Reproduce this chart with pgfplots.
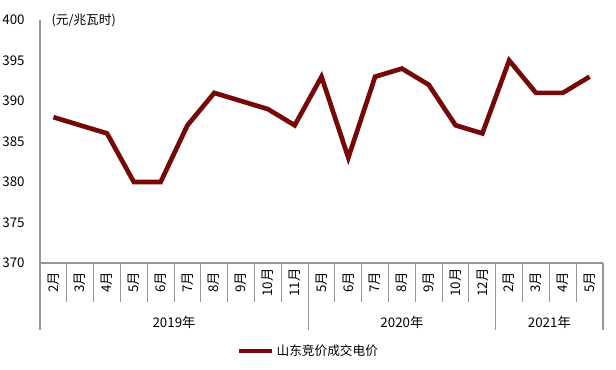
\documentclass[border=0pt]{standalone}
\usepackage{fontspec}
\setmainfont{Noto Sans CJK SC}
\usepackage{pgfplots}
\pgfplotsset{compat=1.18}
\definecolor{lineRed}{RGB}{118,8,8}
\definecolor{axGray}{RGB}{150,150,150}
\newcommand\yue{月}
\begin{document}
\begin{tikzpicture}
\useasboundingbox (0,0) rectangle (462pt,277.5pt);
\begin{axis}[
  at={(30pt,80.25pt)}, anchor=south west,
  width=422.25pt, height=182.25pt, scale only axis,
  xmin=-0.5, xmax=20.5, ymin=370, ymax=400,
  ytick={370,375,...,400},
  xtick=\empty,
  axis x line*=bottom, axis y line*=left,
  axis line style={axGray, line width=0.8pt, -},
  major tick length=0pt,
  /pgf/number format/assume math mode=true,
  yticklabel style={font=\fontsize{10}{12}\selectfont, xshift=-8pt},
  clip=false,
  legend style={draw=none, at={(0.3487,-0.362)}, anchor=west, inner sep=0pt,
     font=\fontsize{9.5}{11}\selectfont, legend cell align=left},
  legend image code/.code={\draw[line width=3pt, lineRed] (0pt,0pt)--(25pt,0pt);},
]
\addplot[lineRed, line width=3.5pt, line join=miter] coordinates {
 (0,388) (1,387) (2,386) (3,380) (4,380) (5,387) (6,391) (7,390) (8,389) (9,387)
 (10,393) (11,383) (12,393) (13,394) (14,392) (15,387) (16,386)
 (17,395) (18,391) (19,391) (20,393)};
\addlegendentry{山东竞价成交电价}
% separators
\foreach \i in {0.5,1.5,...,8.5, 10.5,11.5,...,15.5, 17.5,18.5,19.5}{
  \edef\tmp{\noexpand\draw[axGray, line width=0.8pt] (axis cs:\i,370) -- ([yshift=-29.25pt]axis cs:\i,370);}\tmp
}
\foreach \i in {-0.5,9.5,16.5,20.5}{
  \edef\tmp{\noexpand\draw[axGray, line width=0.8pt] (axis cs:\i,370) -- ([yshift=-50.25pt]axis cs:\i,370);}\tmp
}
% month labels
\foreach \m [count=\k from 0] in {2,3,4,5,6,7,8,9,10,11,5,6,7,8,9,10,12,2,3,4,5}{
  \edef\tmp{\noexpand\node[rotate=90, font=\noexpand\fontsize{10}{11}\noexpand\selectfont, inner sep=0pt] at ([yshift=-14.6pt]axis cs:\k,370) {\m\noexpand\yue};}\tmp
}
\node[font=\fontsize{10}{12}\selectfont] at ([yshift=-44.25pt]axis cs:4.5,370) {2019年};
\node[font=\fontsize{10}{12}\selectfont] at ([yshift=-44.25pt]axis cs:13,370) {2020年};
\node[font=\fontsize{10}{12}\selectfont] at ([yshift=-44.25pt]axis cs:18.5,370) {2021年};
\node[anchor=west, font=\fontsize{9.5}{11}\selectfont, inner sep=0pt] at ([xshift=8.5pt]axis cs:-0.5,400) {(元/兆瓦时)};
\end{axis}
\end{tikzpicture}
\end{document}
